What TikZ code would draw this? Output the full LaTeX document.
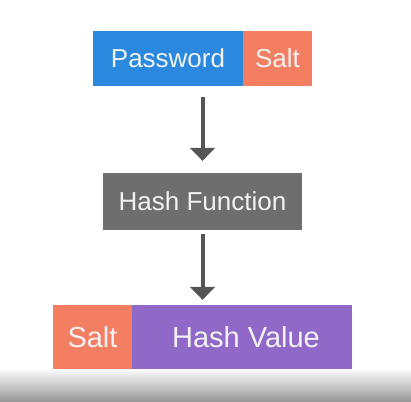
\documentclass[tikz,border=0pt]{standalone}
\usepackage{fontspec}
\setmainfont{Liberation Sans}
\usetikzlibrary{arrows.meta}
\definecolor{pwblue}{HTML}{2A89DE}
\definecolor{saltc}{HTML}{F47E62}
\definecolor{hfgray}{HTML}{6E6E6E}
\definecolor{hvpurple}{HTML}{9068C8}
\definecolor{txt}{HTML}{F2F2F2}
\definecolor{arr}{HTML}{555555}
\begin{document}
\begin{tikzpicture}[x=1pt,y=-1pt,
  box/.style={rectangle,inner sep=0pt,text=txt,font=\fontsize{26}{30}\selectfont},
  bigbox/.style={box,font=\fontsize{29}{34}\selectfont},
  flow/.style={draw=arr,line width=4pt,-{Triangle[width=25pt,length=13pt]}}]
\useasboundingbox (0,0) rectangle (411,401);
\fill[white] (0,0) rectangle (411,401);
\shade[top color=white,bottom color=black!40] (0,368) rectangle (411,401);
\node[box,fill=pwblue,minimum width=150pt,minimum height=55pt] (pw) at (168,58.5) {Password};
\node[box,fill=saltc,minimum width=69pt,minimum height=55pt] (salt1) at (277.5,58.5) {Salt};
\node[box,fill=hfgray,minimum width=199pt,minimum height=57pt] (hf) at (202.5,201.5) {Hash Function};
\node[bigbox,fill=saltc,minimum width=79pt,minimum height=64pt] (salt2) at (92.5,337) {Salt};
\node[bigbox,fill=hvpurple,minimum width=220pt,minimum height=64pt] (hv) at (242,337) {\hspace{8pt}Hash Value};
\draw[flow,shorten <=11pt,shorten >=12pt] (pw.south -| hf.north) -- (hf.north);
\draw[flow,shorten <=4pt,shorten >=5pt] (hf.south) -- (hf.south |- hv.north);
\end{tikzpicture}
\end{document}
